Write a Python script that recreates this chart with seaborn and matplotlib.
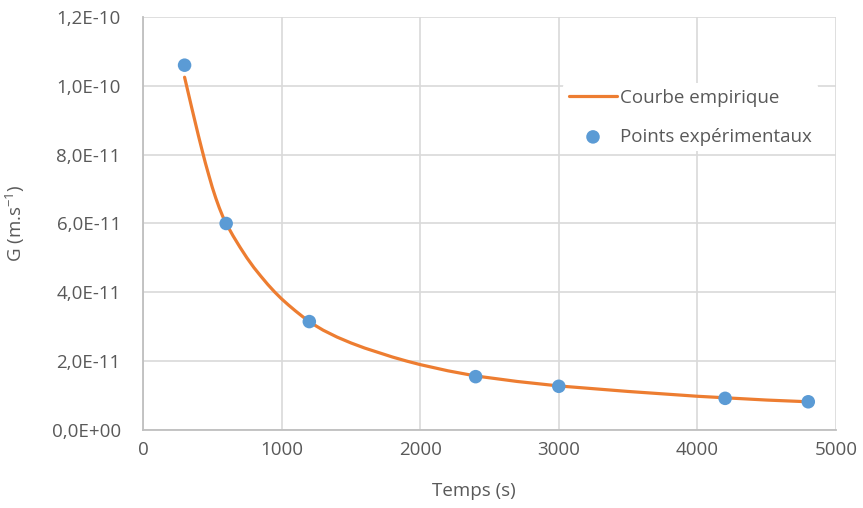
import matplotlib
matplotlib.use("Agg")
import matplotlib.pyplot as plt
import seaborn as sns

# ---- data ----
time_pts = [300, 600, 1200, 2400, 3000, 4200, 4800]
g_pts = [1.06e-10, 6.0e-11, 3.15e-11, 1.55e-11, 1.27e-11, 9.2e-12, 8.2e-12]

curve_t = [300, 325, 350, 375, 400, 425, 450, 475, 500, 525, 550, 575, 600,
           650, 700, 750, 800, 850, 900, 950, 1000, 1050, 1100, 1150, 1200,
           1250, 1300, 1400, 1500, 1600, 1700, 1800, 1900, 2000, 2200, 2400,
           2700, 3000, 3500, 4000, 4500, 4800]
curve_g = [10.25e-11, 9.82e-11, 9.39e-11, 8.97e-11, 8.55e-11, 8.15e-11, 7.76e-11,
           7.40e-11, 7.05e-11, 6.74e-11, 6.46e-11, 6.21e-11, 6.00e-11,
           5.64e-11, 5.31e-11, 5.00e-11, 4.72e-11, 4.47e-11, 4.23e-11, 4.01e-11,
           3.81e-11, 3.63e-11, 3.46e-11, 3.30e-11, 3.15e-11,
           3.02e-11, 2.90e-11, 2.70e-11, 2.53e-11, 2.38e-11, 2.25e-11, 2.12e-11,
           2.005e-11, 1.90e-11, 1.72e-11, 1.57e-11,
           1.41e-11, 1.28e-11, 1.12e-11, 0.98e-11, 0.87e-11, 0.82e-11]

x_ticks = [0, 1000, 2000, 3000, 4000, 5000]
x_ticklabels = ["0", "1000", "2000", "3000", "4000", "5000"]
y_ticks = [0, 2e-11, 4e-11, 6e-11, 8e-11, 1.0e-10, 1.2e-10]
y_ticklabels = ["0,0E+00", "2,0E-11", "4,0E-11", "6,0E-11", "8,0E-11", "1,0E-10", "1,2E-10"]

label_curve = "Courbe empirique"
label_points = "Points expérimentaux"
x_label = "Temps (s)"
y_label = "G (m.s$^{-1}$)"

# ---- style ----
sns.set_style("white")
plt.rcParams["font.family"] = ["Open Sans", "DejaVu Sans"]
plt.rcParams["mathtext.default"] = "regular"
text_col = "#595959"
grid_col = "#d9d9d9"
orange = "#ED7D31"
blue = "#5B9BD5"
fs = 13.5

fig = plt.figure(figsize=(8.63, 5.08), dpi=100)
ax = fig.add_axes([143 / 863, (508 - 430) / 508, 693 / 863, 413 / 508])

sns.lineplot(x=curve_t, y=curve_g, ax=ax, color=orange, linewidth=2.3,
             label=label_curve, sort=False, zorder=3)
sns.scatterplot(x=time_pts, y=g_pts, ax=ax, color=blue, s=95, edgecolor="none",
                label=label_points, zorder=4)

ax.set_xlim(0, 5000)
ax.set_ylim(0, 1.2e-10)
ax.set_xticks(x_ticks)
ax.set_xticklabels(x_ticklabels)
ax.set_yticks(y_ticks)
ax.set_yticklabels(y_ticklabels)
ax.tick_params(axis="both", length=0, labelsize=fs, labelcolor=text_col)
ax.tick_params(axis="y", pad=16)
ax.tick_params(axis="x", pad=8)

ax.grid(True, color=grid_col, linewidth=1.2, zorder=0)
ax.set_axisbelow(True)
for side in ["top", "right"]:
    ax.spines[side].set_visible(False)
for side in ["left", "bottom"]:
    ax.spines[side].set_color("#bfbfbf")
    ax.spines[side].set_linewidth(1.3)

ax.set_xlabel(x_label, fontsize=fs, color=text_col)
ax.set_ylabel(y_label, fontsize=fs, color=text_col)
ax.xaxis.set_label_coords((474 - 143) / 693, -0.125)
ax.yaxis.set_label_coords((27 - 143) / 693, 0.5)

leg = ax.legend(loc="upper left", bbox_to_anchor=((563 - 143) / 693, (430 - 83) / 413),
                borderaxespad=0, borderpad=0.3, frameon=True, facecolor="white",
                edgecolor="none", framealpha=1, fontsize=fs, handlelength=2.6,
                handletextpad=0.16, labelspacing=1.13, markerscale=1.0)
for t in leg.get_texts():
    t.set_color(text_col)

fig.savefig("out.png", dpi=100)
